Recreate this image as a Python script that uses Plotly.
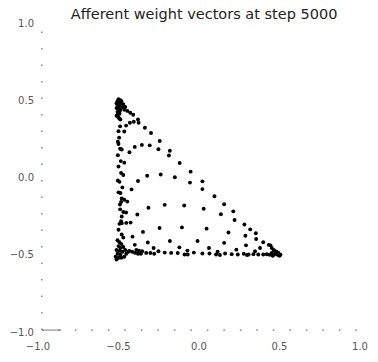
import plotly.graph_objects as go

# ---- data (weight vectors) ----
top_x = [-0.500, -0.506, -0.494, -0.512, -0.488, -0.506, -0.494, -0.512, -0.500, -0.488, -0.506, -0.494,
         -0.512, -0.500, -0.488, -0.482, -0.470, -0.458, -0.464, -0.445, -0.427, -0.409, -0.476,
         -0.500, -0.500, -0.494, -0.506, -0.494, -0.488]
top_y = [0.506, 0.494, 0.494, 0.481, 0.481, 0.469, 0.463, 0.450, 0.444, 0.438, 0.425, 0.413,
         0.400, 0.388, 0.375, 0.494, 0.475, 0.456, 0.438, 0.431, 0.419, 0.406, 0.456,
         0.475, 0.456, 0.425, 0.406, 0.381, 0.500]

left_x = [-0.490, -0.500, -0.496, -0.504, -0.500, -0.490, -0.480, -0.504, -0.486, -0.464, -0.500,
          -0.484, -0.470, -0.504, -0.494, -0.476, -0.500, -0.488, -0.480, -0.464, -0.484, -0.491,
          -0.445, -0.490, -0.470, -0.453, -0.480, -0.484, -0.494, -0.480, -0.500, -0.480, -0.470]
left_y = [0.331, 0.300, 0.258, 0.231, 0.217, 0.186, 0.181, 0.144, 0.106, 0.096, 0.071,
          0.029, 0.016, -0.019, -0.028, -0.064, -0.096, -0.100, -0.136, -0.144, -0.158, -0.175,
          -0.156, -0.206, -0.223, -0.227, -0.252, -0.283, -0.300, -0.296, -0.338, -0.369, -0.389]

corner_x = [-0.506, -0.494, -0.482, -0.500, -0.488, -0.512, -0.494, -0.476, -0.506, -0.488, -0.518,
            -0.500, -0.482, -0.464, -0.512, -0.452, -0.439, -0.458, -0.470, -0.433, -0.415, -0.397,
            -0.379, -0.361]
corner_y = [-0.406, -0.419, -0.431, -0.444, -0.456, -0.469, -0.475, -0.481, -0.494, -0.500, -0.513,
            -0.519, -0.519, -0.513, -0.531, -0.494, -0.481, -0.469, -0.450, -0.475, -0.481, -0.488,
            -0.494, -0.494]

bottom_x = [-0.389, -0.373, -0.353, -0.328, -0.302, -0.278, -0.252, -0.213, -0.173, -0.132, -0.090,
            -0.070, -0.032, -0.072, 0.021, 0.065, 0.106, 0.130, 0.162, 0.203, 0.241, 0.278, 0.298,
            0.308, 0.338, 0.368, 0.399, 0.421, 0.439]
bottom_y = [-0.469, -0.473, -0.477, -0.488, -0.489, -0.494, -0.477, -0.486, -0.488, -0.489, -0.498,
            -0.498, -0.486, -0.473, -0.492, -0.492, -0.498, -0.502, -0.492, -0.496, -0.498, -0.494,
            -0.502, -0.498, -0.496, -0.498, -0.498, -0.497, -0.500]

right_x = [0.452, 0.464, 0.476, 0.488, 0.500, 0.470, 0.482, 0.494, 0.458, 0.506, 0.433, 0.444,
           0.452, 0.464]
right_y = [-0.488, -0.500, -0.494, -0.500, -0.506, -0.475, -0.481, -0.488, -0.506, -0.500, -0.436,
           -0.439, -0.456, -0.469]

inner_x = [-0.429, -0.405, -0.379, -0.375, -0.453, -0.464, -0.336, -0.298, -0.244, -0.181, -0.187,
           -0.120, -0.052, -0.056, 0.021, 0.021, 0.096, 0.156, 0.213, 0.221, 0.282, 0.318, 0.353,
           0.355, 0.399, -0.355, -0.399, -0.306, -0.252, -0.432, -0.238, -0.322, -0.150, -0.379,
           -0.213, -0.092, -0.314, -0.383, -0.419, -0.425, -0.245, -0.106, -0.348, -0.413, -0.181,
           -0.009, -0.318, -0.399, -0.282, -0.122, 0.029, 0.136, 0.047, 0.183, 0.288, 0.156, 0.292,
           0.379, 0.062, 0.232, 0.348, 0.116, -0.452]
inner_y = [0.354, 0.361, 0.375, 0.354, 0.336, 0.298, 0.322, 0.288, 0.236, 0.173, 0.142,
           0.094, 0.038, -0.033, -0.025, -0.075, -0.121, -0.173, -0.219, -0.275, -0.304, -0.336, -0.361,
           -0.398, -0.419, 0.211, 0.198, 0.208, 0.183, 0.163, 0.019, 0.011, 0.002, -0.023,
           -0.177, -0.181, -0.196, -0.239, -0.077, -0.292, -0.327, -0.323, -0.352, -0.383, -0.411,
           -0.411, -0.421, -0.436, -0.456, -0.452, -0.202, -0.238, -0.331, -0.356, -0.377, -0.423, -0.439,
           -0.456, -0.456, -0.467, -0.477, -0.481, -0.294]

tick_vals = [-1.0, -0.5, 0.0, 0.5, 1.0]
tick_text = ["\u22121.0", "\u22120.5", "0.0", "0.5", "1.0"]
title_text = "Afferent weight vectors at step 5000"

fig = go.Figure()
marker = dict(color="black", size=3.9, line=dict(width=0))
for xs, ys in [(top_x, top_y), (left_x, left_y), (corner_x, corner_y),
               (bottom_x, bottom_y), (right_x, right_y), (inner_x, inner_y)]:
    fig.add_trace(go.Scatter(x=xs, y=ys, mode="markers", marker=marker,
                             showlegend=False, hoverinfo="skip"))

# faint, broken axis lines as in the scanned figure
axis_line = dict(color="#666666", width=1.2, dash="1.5px,15px")
fig.add_shape(type="line", x0=-0.976, x1=-0.976, y0=-0.9875, y1=1.0, line=axis_line)
fig.add_shape(type="line", x0=-0.976, x1=1.0, y0=-0.9875, y1=-0.9875, line=axis_line)
fig.add_shape(type="line", x0=-0.976, x1=-0.855, y0=-0.9875, y1=-0.9875,
              line=dict(color="#777777", width=1))

axis_common = dict(range=[-1, 1], showgrid=False, zeroline=False, showline=False,
                   tickvals=tick_vals, ticktext=tick_text, ticks="",
                   tickfont=dict(family="DejaVu Sans", size=10, color="#555555"))

fig.update_layout(
    width=378, height=362,
    margin=dict(l=37, r=10, t=23, b=19),
    paper_bgcolor="white", plot_bgcolor="white",
    title=dict(text=title_text, x=0.54, xanchor="center", y=0.962, yanchor="middle",
               font=dict(family="DejaVu Sans", size=14.5, color="#222222")),
    xaxis=dict(axis_common, ticklabelstandoff=7),
    yaxis=dict(axis_common, ticklabelstandoff=3),
)

fig.write_html("out.html", config={"displayModeBar": False})
